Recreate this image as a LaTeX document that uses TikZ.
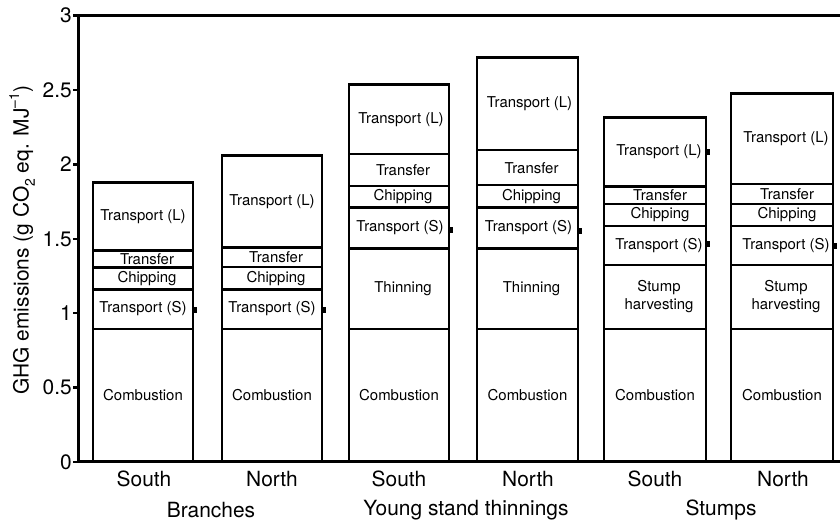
\documentclass[tikz,border=0pt]{standalone}
\usepackage{fontspec}
\setmainfont{TeX Gyre Heros}
\begin{document}
\begin{tikzpicture}[x=1bp,y=1bp,
  axisline/.style={line width=3bp, line cap=rect},
  barframe/.style={line width=2.8bp, line join=miter},
  divider/.style={line width=2.5bp},
  seglbl/.style={font=\fontsize{15}{18}\selectfont, inner sep=0pt, align=center},
  ticklbl/.style={font=\fontsize{21}{24}\selectfont, anchor=east, inner sep=0pt},
  catlbl/.style={font=\fontsize{21}{24}\selectfont, inner sep=0pt},
  errmark/.style={fill=black}
]
\useasboundingbox (0,0) rectangle (840,522);
\begin{scope}[shift={(0,60)}, y=148.8bp]
% axes
\draw[axisline] (78,3) -- (78,0) -- (840,0);
\draw[axisline] (78,3) -- (840,3);
\foreach \v in {0,0.5,1,1.5,2,2.5,3}{
  \draw[line width=2.5bp] (73,\v) -- (78,\v);
  \node[ticklbl] at (72,\v) {\v};
}
\node[rotate=90, font=\fontsize{21}{24}\selectfont, inner sep=0pt] (ylab) at (22,1.49)
  {GHG emissions (g CO\raisebox{-0.3em}{\fontsize{14}{14}\selectfont 2} eq. MJ\raisebox{0.45em}{\fontsize{14}{14}\selectfont –1})};

% ---------- Branches South ----------
\draw[barframe] (93,0) rectangle (193,1.88);
\foreach \v in {0.895,1.16,1.306,1.42} \draw[divider] (93,\v) -- (193,\v);
\node[seglbl] (bs1) at (143,0.45) {Combustion};
\node[seglbl] (bs2) at (143,1.03) {Transport (S)};
\node[seglbl, xshift=4bp] (bs3) at (143,1.233) {Chipping};
\node[seglbl, xshift=4bp] (bs4) at (143,1.36) {Transfer};
\node[seglbl] (bs5) at (143,1.65) {Transport (L)};
\fill[errmark] (194,1.02) ++(0,-3bp) rectangle ++(2.5bp,6bp);

% ---------- Branches North ----------
\draw[barframe] (222,0) rectangle (322,2.06);
\foreach \v in {0.895,1.16,1.31,1.443} \draw[divider] (222,\v) -- (322,\v);
\node[seglbl] (bn1) at (272,0.45) {Combustion};
\node[seglbl] (bn2) at (272,1.03) {Transport (S)};
\node[seglbl, xshift=4bp] (bn3) at (272,1.235) {Chipping};
\node[seglbl, xshift=4bp] (bn4) at (272,1.375) {Transfer};
\node[seglbl] (bn5) at (272,1.75) {Transport (L)};
\fill[errmark] (323,1.02) ++(0,-3bp) rectangle ++(2.5bp,6bp);

% ---------- Young stand thinnings South ----------
\draw[barframe] (349,0) rectangle (449,2.537);
\foreach \v in {0.895,1.436,1.71,1.855,2.07} \draw[divider] (349,\v) -- (449,\v);
\node[seglbl] (ys1) at (399,0.45) {Combustion};
\node[seglbl, xshift=4bp] (ys2) at (399,1.165) {Thinning};
\node[seglbl, xshift=1bp] (ys3) at (399,1.573) {Transport (S)};
\node[seglbl, xshift=4bp] (ys4) at (399,1.783) {Chipping};
\node[seglbl, xshift=4bp] (ys5) at (399,1.963) {Transfer};
\node[seglbl, xshift=2bp] (ys6) at (399,2.303) {Transport (L)};
\fill[errmark] (450,1.56) ++(0,-3bp) rectangle ++(2.5bp,6bp);

% ---------- Young stand thinnings North ----------
\draw[barframe] (477,0) rectangle (578,2.72);
\foreach \v in {0.895,1.436,1.71,1.86,2.097} \draw[divider] (477,\v) -- (578,\v);
\node[seglbl] (yn1) at (527.5,0.45) {Combustion};
\node[seglbl, xshift=4bp] (yn2) at (527.5,1.165) {Thinning};
\node[seglbl, xshift=1bp] (yn3) at (527.5,1.573) {Transport (S)};
\node[seglbl, xshift=4bp] (yn4) at (527.5,1.785) {Chipping};
\node[seglbl, xshift=4bp] (yn5) at (527.5,1.978) {Transfer};
\node[seglbl, xshift=2bp] (yn6) at (527.5,2.408) {Transport (L)};
\fill[errmark] (579,1.555) ++(0,-3bp) rectangle ++(2.5bp,6bp);

% ---------- Stumps South ----------
\draw[barframe] (604,0) rectangle (706,2.316);
\foreach \v in {0.895,1.324,1.586,1.734,1.85} \draw[divider] (604,\v) -- (706,\v);
\node[seglbl] (ss1) at (655,0.45) {Combustion};
\node[seglbl, xshift=4bp] (ss2) at (655,1.11) {Stump\\harvesting};
\node[seglbl, xshift=4bp] (ss3) at (655,1.455) {Transport (S)};
\node[seglbl, xshift=5bp] (ss4) at (655,1.66) {Chipping};
\node[seglbl, xshift=5bp] (ss5) at (655,1.792) {Transfer};
\node[seglbl, xshift=4bp] (ss6) at (655,2.083) {Transport (L)};
\fill[errmark] (707,1.465) ++(0,-3bp) rectangle ++(2.5bp,6bp);
\fill[errmark] (707,2.083) ++(0,-3bp) rectangle ++(2.5bp,6bp);

% ---------- Stumps North ----------
\draw[barframe] (731,0) rectangle (833,2.478);
\foreach \v in {0.895,1.324,1.586,1.734,1.868} \draw[divider] (731,\v) -- (833,\v);
\node[seglbl] (sn1) at (782,0.45) {Combustion};
\node[seglbl, xshift=4bp] (sn2) at (782,1.11) {Stump\\harvesting};
\node[seglbl, xshift=4bp] (sn3) at (782,1.455) {Transport (S)};
\node[seglbl, xshift=5bp] (sn4) at (782,1.66) {Chipping};
\node[seglbl, xshift=5bp] (sn5) at (782,1.801) {Transfer};
\node[seglbl, xshift=4bp] (sn6) at (782,2.173) {Transport (L)};
\fill[errmark] (834,1.45) ++(0,-3bp) rectangle ++(2.5bp,6bp);
\end{scope}

% category labels
\node[catlbl] (c1) at (144,43) {South};
\node[catlbl] (c2) at (272,43) {North};
\node[catlbl] (c3) at (399,43) {South};
\node[catlbl] (c4) at (528,43) {North};
\node[catlbl] (c5) at (655,43) {South};
\node[catlbl] (c6) at (783,43) {North};
\node[catlbl] (g1) at (211,12) {Branches};
\node[catlbl] (g2) at (466,12) {Young stand thinnings};
\node[catlbl] (g3) at (721,12) {Stumps};
\end{tikzpicture}
\end{document}
